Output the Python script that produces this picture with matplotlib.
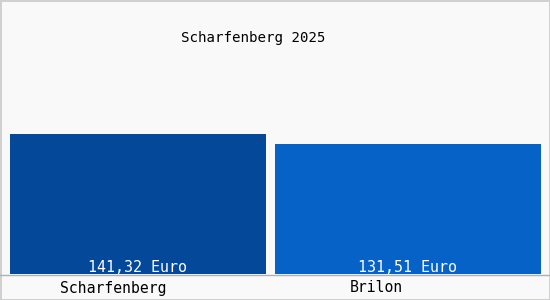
import matplotlib.pyplot as plt
from matplotlib.lines import Line2D

places = ['Scharfenberg', 'Brilon']
values = [141.32, 131.51]
value_labels = ['141,32 Euro', '131,51 Euro']
title = 'Scharfenberg 2025'

def main():
    colors = ['#04489a', '#0662c6']
    fig = plt.figure(figsize=(5.5, 3), dpi=100, facecolor='#f9f9f9')
    fig.patch.set_edgecolor('#d0d0d0')
    fig.patch.set_linewidth(2)
    # axes: x 10..541 px, y 60..274 px
    ax = fig.add_axes([10/550, 26/300, 531/550, 214/300])
    ax.set_facecolor('#f9f9f9')
    x = list(range(len(places)))
    ax.bar(x, values, width=[256/270, 266/270], color=colors)
    ax.set_xlim(-128/270, 1 + 133/270)
    ax.set_ylim(0, 214/0.9906)
    ax.axis('off')
    for i, lab in enumerate(value_labels):
        ax.annotate(lab, xy=(i, 0), xytext=(0, 6*0.72), textcoords='offset points',
                    ha='center', va='center', color='white',
                    family='DejaVu Sans Mono', fontsize=10.8)
    offsets = [-24.5, -32]
    for i, name in enumerate(places):
        ax.annotate(name, xy=(i, 0), xytext=(offsets[i]*0.72, -14*0.72),
                    textcoords='offset points', ha='center', va='center',
                    color='black', family='DejaVu Sans Mono', fontsize=10.6)
    fig.text(253/550, 1 - 38/300, title, ha='center', va='center',
             family='DejaVu Sans Mono', fontsize=10.2)
    fig.add_artist(Line2D([0, 1], [1 - 274.5/300]*2, color='#b0b0b0', lw=1))
    fig.savefig('out.png', dpi=100, facecolor=fig.get_facecolor(),
                edgecolor=fig.patch.get_edgecolor())

if __name__ == "__main__":
    main()
